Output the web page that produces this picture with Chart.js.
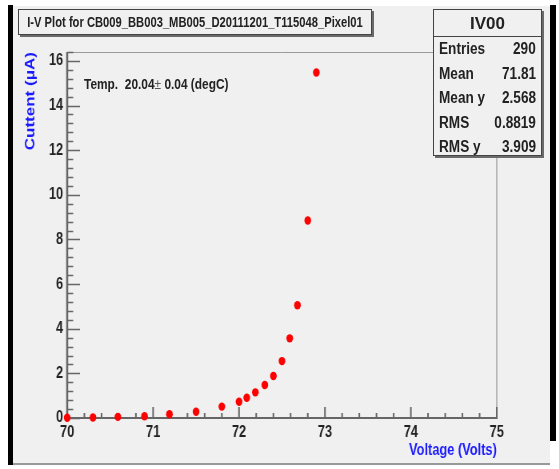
<!DOCTYPE html>
<html>
<head>
<meta charset="utf-8">
<script src="https://cdn.jsdelivr.net/npm/chart.js@4.4.0/dist/chart.umd.min.js"></script>
<style>
  html, body { margin: 0; padding: 0; background: #fff; }
  body { width: 559px; height: 469px; position: relative; overflow: hidden; font-family: "Liberation Sans", Arial, sans-serif; color: #222; }
  #pad   { position: absolute; left: 13px; top: 6px; width: 537px; height: 457px; background: #f0f0f0; border-bottom: 2px solid #999; }
  #edgeL { position: absolute; left: 8px; top: 5px; width: 5px; height: 460px; background: #000; }
  #edgeR { position: absolute; left: 550px; top: 5px; width: 6px; height: 436px; background: #000; }
  /* ROOT canvas is rendered wide and squeezed, like the reference */
  #wrap  { position: absolute; left: 0; top: 0; width: 699px; height: 469px; transform: scaleX(0.8); transform-origin: left top; }
  .box   { position: absolute; background: #f0f0f0; border: 1px solid #444; box-shadow: 2px 2px 0 #6a6a6a; font-weight: bold; }
  #title { left: 18px; top: 9px; width: 352px; height: 24px; font-size: 14px; white-space: nowrap; }
  #title span { position: absolute; left: 50%; top: 0; line-height: 24px; transform: translateX(-50%) scaleX(0.8); }
  #stats { left: 433px; top: 9px; width: 107px; height: 145px; font-size: 16px; }
  #stats .hd { height: 26px; line-height: 28px; text-align: center; border-bottom: 1px solid #444; font-size: 17px; }
  #stats .row { height: 24.5px; line-height: 24px; position: relative; }
  #stats .row span { position: absolute; transform: scaleX(0.85); white-space: nowrap; }
  #stats .row .k { left: 5px; transform-origin: left center; }
  #stats .row .v { right: 5px; transform-origin: right center; }
  #temp  { position: absolute; left: 84px; top: 76px; font-size: 14px; font-weight: bold; white-space: nowrap; transform: scaleX(0.85); transform-origin: left center; }
  #temp .pm { font-weight: normal; color: #555; }
</style>
</head>
<body>
<div id="edgeL"></div>
<div id="pad"></div>
<div id="edgeR"></div>
<div id="wrap"><canvas id="iv"></canvas></div>
<div id="temp">Temp.&nbsp; 20.04<span class="pm">±</span> 0.04 (degC)</div>
<div id="title" class="box"><span>I-V Plot for CB009_BB003_MB005_D20111201_T115048_Pixel01</span></div>
<div id="stats" class="box">
  <div class="hd">IV00</div>
  <div class="row"><span class="k">Entries</span><span class="v">290</span></div>
  <div class="row"><span class="k">Mean</span><span class="v">71.81</span></div>
  <div class="row"><span class="k">Mean y</span><span class="v">2.568</span></div>
  <div class="row"><span class="k">RMS</span><span class="v">0.8819</span></div>
  <div class="row"><span class="k">RMS y</span><span class="v">3.909</span></div>
</div>
<script>
// I-V scan, pixel 01
const voltage = [70.0, 70.3, 70.59, 70.9, 71.19, 71.5, 71.8, 72.0, 72.09, 72.19, 72.3, 72.4, 72.5, 72.59, 72.68, 72.8, 72.9];
const current = [0.01, 0.02, 0.05, 0.08, 0.17, 0.28, 0.51, 0.73, 0.91, 1.15, 1.48, 1.88, 2.55, 3.57, 5.05, 8.85, 15.48];

const xRange = [70, 75];
const yRange = [0, 16.4];
const xMajor = 1, xMinor = 0.2;
const yMajor = 2, yMinor = 0.4;

const points = voltage.map((v, i) => ({ x: v, y: current[i] }));

// ROOT style frame: inward ticks, grey top/right border
const rootFrame = {
  id: 'rootFrame',
  beforeDatasetsDraw(chart) {
    const { ctx, chartArea: a, scales: { x, y } } = chart;
    ctx.save();
    ctx.strokeStyle = '#9a9a9a';
    ctx.lineWidth = 1;
    ctx.beginPath();
    ctx.moveTo(a.left, a.top + 0.5);
    ctx.lineTo(a.right, a.top + 0.5);
    ctx.stroke();
    ctx.lineWidth = 1.3;
    ctx.beginPath();
    ctx.moveTo(a.right, a.top);
    ctx.lineTo(a.right, a.bottom);
    ctx.stroke();

    ctx.strokeStyle = '#666';
    // x ticks (vertical strokes get squeezed, so a bit wider)
    ctx.lineWidth = 2;
    ctx.beginPath();
    for (let v = xRange[0]; v <= xRange[1] + 1e-9; v += xMinor) {
      const px = x.getPixelForValue(v);
      const major = Math.abs(v / xMajor - Math.round(v / xMajor)) < 1e-6;
      ctx.moveTo(px, a.bottom);
      ctx.lineTo(px, a.bottom - (major ? 11 : 5));
    }
    ctx.stroke();
    ctx.lineWidth = 1.5;
    ctx.beginPath();
    for (let v = yRange[0]; v <= yRange[1] + 1e-9; v += yMinor) {
      const py = Math.round(y.getPixelForValue(v)) + 0.5;
      const major = Math.abs(v / yMajor - Math.round(v / yMajor)) < 1e-6;
      ctx.moveTo(a.left, py);
      ctx.lineTo(a.left + (major ? 16 : 7.5), py);
    }
    ctx.stroke();

    ctx.lineWidth = 2.5;
    ctx.beginPath();
    ctx.moveTo(a.left, a.top);
    ctx.lineTo(a.left, a.bottom);
    ctx.stroke();
    ctx.lineWidth = 2;
    ctx.beginPath();
    ctx.moveTo(a.left, a.bottom);
    ctx.lineTo(a.right + 1, a.bottom);
    ctx.stroke();
    ctx.restore();
  }
};

new Chart(document.getElementById('iv'), {
  type: 'scatter',
  data: {
    datasets: [{
      data: points,
      backgroundColor: '#ff0000',
      borderWidth: 0,
      pointRadius: 4.2,
      pointHoverRadius: 4.2,
      clip: false,
    }],
  },
  options: {
    responsive: true, maintainAspectRatio: false, animation: false, devicePixelRatio: 1,
    layout: { padding: { left: 0, right: 78, top: 52, bottom: 6 } },
    plugins: { legend: { display: false }, tooltip: { enabled: false } },
    scales: {
      x: {
        type: 'linear', min: xRange[0], max: xRange[1],
        afterFit: s => { s.height = 45; },
        grid: { display: false, drawTicks: false }, border: { display: false },
        ticks: { stepSize: xMajor, padding: 5, color: '#222', font: { family: 'Liberation Sans', size: 16, weight: 'bold' } },
        title: { display: true, text: 'Voltage (Volts)', align: 'end', color: '#1a1aff', padding: { top: 0, bottom: 3 },
                 font: { family: 'Liberation Sans', size: 16, weight: 'bold' } },
      },
      y: {
        type: 'linear', min: yRange[0], max: yRange[1],
        afterFit: s => { s.width = 84; },
        grid: { display: false, drawTicks: false }, border: { display: false },
        ticks: { stepSize: yMajor, includeBounds: false, padding: 5, color: '#222', font: { family: 'Liberation Sans', size: 16, weight: 'bold' } },
        title: { display: true, text: 'Cuttent (μA)', align: 'end', color: '#1a1aff', padding: { top: 28, bottom: 0 },
                 font: { family: 'Liberation Sans', size: 17, weight: 'bold' } },
      },
    },
  },
  plugins: [rootFrame],
});
</script>
</body>
</html>
